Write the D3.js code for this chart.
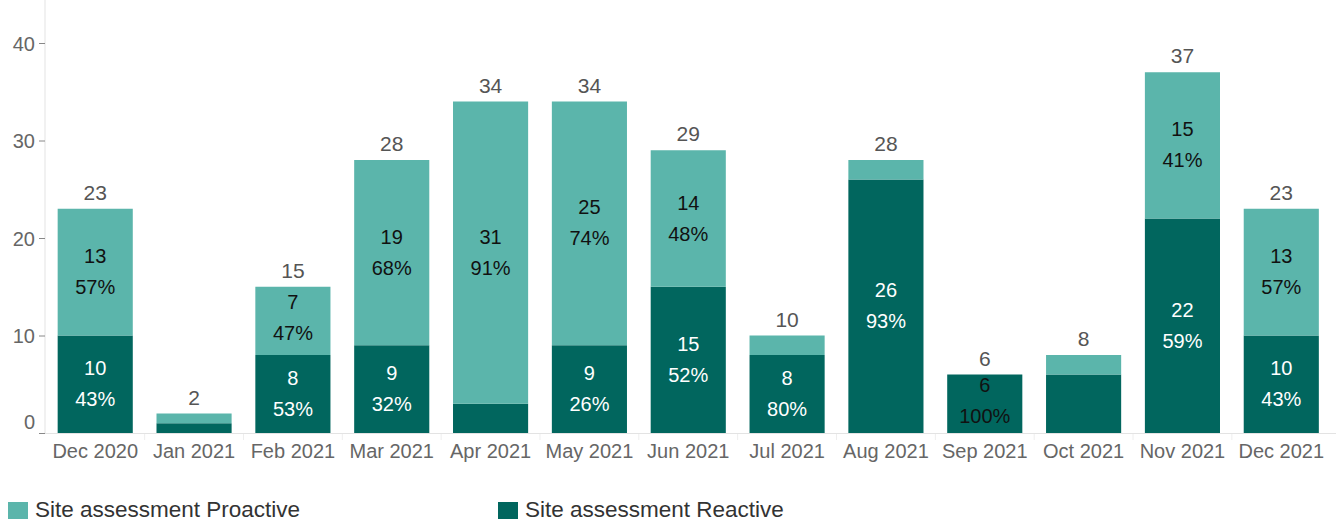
<!DOCTYPE html>
<html>
<head>
<meta charset="utf-8">
<script src="https://cdn.jsdelivr.net/npm/d3@7"></script>
<style>
  body { margin: 0; background: #fff; }
  svg { display: block; font-family: "Liberation Sans", Arial, sans-serif; }
</style>
</head>
<body>
<svg width="1336" height="521"></svg>
<script>
// chart data
const months = ["Dec 2020", "Jan 2021", "Feb 2021", "Mar 2021", "Apr 2021", "May 2021", "Jun 2021",
                "Jul 2021", "Aug 2021", "Sep 2021", "Oct 2021", "Nov 2021", "Dec 2021"];
const reactive  = [10, 1, 8, 9, 3, 9, 15, 8, 26, 6, 6, 22, 10];
const proactive = [13, 1, 7, 19, 31, 25, 14, 2, 2, 0, 2, 15, 13];
const yTicks = [0, 10, 20, 30, 40];
// months whose segment labels the chart leaves out
const hideReactive  = ["Jan 2021", "Apr 2021", "Oct 2021"];
const hideProactive = ["Jan 2021", "Jul 2021", "Aug 2021", "Sep 2021", "Oct 2021"];

const colProactive = "#5bb5ab";
const colReactive = "#01665e";

const svg = d3.select("svg");

const x = d3.scaleBand()
    .domain(months)
    .range([45.8, 1330.7])
    .paddingInner(0.24)
    .paddingOuter(0.12);

const y = d3.scaleLinear()
    .domain([0, 40])
    .range([433, 43]);

// axes
const yAxis = svg.append("g")
    .attr("transform", "translate(45,0)")
    .call(d3.axisLeft(y).tickValues(yTicks).tickSize(6).tickPadding(4));
yAxis.select(".domain").attr("stroke", "#e3e3e3").attr("d", "M0,433V0");
yAxis.selectAll(".tick line").attr("stroke", "#888");
yAxis.selectAll(".tick text")
    .attr("fill", "#666")
    .attr("font-size", 20)
    .attr("font-family", "Liberation Sans, Arial, sans-serif")
    .attr("dy", d => d === 0 ? "-0.25em" : "0.35em");

const xAxis = svg.append("g")
    .attr("transform", "translate(0,433)")
    .call(d3.axisBottom(x).tickSize(0).tickPadding(7));
xAxis.select(".domain").attr("stroke", "#e3e3e3").attr("d", "M45,0.5H1336");
xAxis.selectAll(".tick text")
    .attr("fill", "#666")
    .attr("font-size", 20)
    .attr("font-family", "Liberation Sans, Arial, sans-serif")
    .attr("dy", "0.9em");

// small separators between categories
svg.append("g")
    .selectAll("line")
    .data(months.slice(1))
    .join("line")
    .attr("x1", d => x(d) - x.step() * x.paddingInner() / 2)
    .attr("x2", d => x(d) - x.step() * x.paddingInner() / 2)
    .attr("y1", 434)
    .attr("y2", 440)
    .attr("stroke", "#eee");

const rows = months.map((m, i) => ({
    month: m,
    reactive: reactive[i],
    proactive: proactive[i],
    total: reactive[i] + proactive[i]
}));

const stack = d3.stack().keys(["reactive", "proactive"])(rows);
const colors = { reactive: colReactive, proactive: colProactive };

svg.append("g")
    .selectAll("g")
    .data(stack)
    .join("g")
    .attr("fill", s => colors[s.key])
    .selectAll("rect")
    .data(s => s)
    .join("rect")
    .attr("x", d => x(d.data.month))
    .attr("width", x.bandwidth())
    .attr("y", d => y(d[1]))
    .attr("height", d => y(d[0]) - y(d[1]));

// totals above bars
svg.append("g")
    .selectAll("text")
    .data(rows)
    .join("text")
    .attr("x", d => x(d.month) + x.bandwidth() / 2)
    .attr("y", d => y(d.total) - 9)
    .attr("text-anchor", "middle")
    .attr("font-size", 21)
    .attr("fill", "#555")
    .text(d => d.total);

// segment labels: value and share of month total
stack.forEach(s => {
    const hidden = s.key === "reactive" ? hideReactive : hideProactive;
    const pts = s.filter(d => !hidden.includes(d.data.month) && d.data[s.key] > 0);
    const g = svg.append("g")
        .attr("text-anchor", "middle")
        .attr("font-size", 20);
    const lab = g.selectAll("g")
        .data(pts)
        .join("g")
        .attr("transform", d => {
            const cy = (y(d[0]) + y(d[1])) / 2;
            // labels that don't fit are nudged up and drawn dark
            const small = y(d[0]) - y(d[1]) < 70;
            return `translate(${x(d.data.month) + x.bandwidth() / 2},${small ? cy - 3 : cy})`;
        })
        .attr("fill", d => {
            if (s.key === "proactive") return "#111";
            return (y(d[0]) - y(d[1]) < 70) ? "#111" : "#fff";
        });
    lab.append("text")
        .attr("y", -9)
        .text(d => d.data[s.key]);
    lab.append("text")
        .attr("y", 22)
        .text(d => Math.round(d.data[s.key] / d.data.total * 100) + "%");
});

// legend
const legend = svg.append("g");
const items = [
    { name: "Site assessment Proactive", color: colProactive, x: 8 },
    { name: "Site assessment Reactive", color: colReactive, x: 498 }
];
const li = legend.selectAll("g")
    .data(items)
    .join("g")
    .attr("transform", d => `translate(${d.x},502)`);
li.append("rect")
    .attr("width", 20)
    .attr("height", 17)
    .attr("fill", d => d.color);
li.append("text")
    .attr("x", 27)
    .attr("y", 14.5)
    .attr("font-size", 22.5)
    .attr("fill", "#333")
    .text(d => d.name);
</script>
</body>
</html>
